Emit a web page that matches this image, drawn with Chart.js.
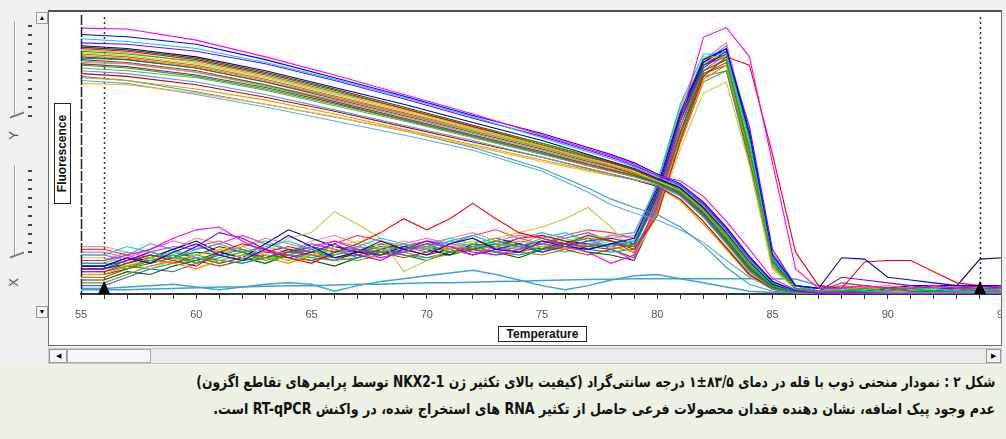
<!DOCTYPE html>
<html>
<head>
<meta charset="utf-8">
<script src="https://cdn.jsdelivr.net/npm/chart.js@4.4.0/dist/chart.umd.min.js"></script>
<style>
html,body{margin:0;padding:0;}
body{width:1006px;height:439px;background:#f0f0f0;position:relative;overflow:hidden;font-family:"Liberation Sans",Arial,sans-serif;}
.abs{position:absolute;box-sizing:border-box;}
#panel{left:48px;top:10px;width:954px;height:336px;background:#fff;}
#plotClip{left:0;top:0;width:1001px;height:345px;overflow:hidden;}
#panelBorder{left:48px;top:10px;width:954px;height:336px;border:1px solid #6a6a6a;border-top:2px solid #505050;}
.groove{width:2px;background:#9a9a9a;border-right:1px solid #fff;}
.tk{width:4px;height:2px;background:#444;left:28px;}
.btn{background:#f4f4f4;border:1px solid #9a9a9a;font-size:7px;line-height:10px;text-align:center;color:#000;}
#flu{left:12px;top:145px;width:101px;height:17px;border:1px solid #222;background:#fff;font-weight:bold;font-size:12px;line-height:15px;text-align:center;transform:rotate(-90deg);color:#111;}
#temp{left:498px;top:326px;width:89px;height:16px;border:1px solid #222;background:#fff;font-weight:bold;font-size:12px;line-height:14px;text-align:center;color:#111;}
#capBand{left:0;top:365px;width:1006px;height:74px;background:#edf1e3;}
.cap{position:absolute;right:11px;white-space:nowrap;direction:rtl;font-family:"DejaVu Sans",sans-serif;font-weight:bold;font-size:15px;color:#111;transform-origin:right center;}
.lbl{font-size:13px;color:#555;transform:rotate(-90deg);}
</style>
</head>
<body>
<div class="abs" id="panel"></div>

<!-- left control strip -->
<div class="abs groove" style="left:14px;top:22px;height:92px;"></div>
<div class="abs groove" style="left:14px;top:166px;height:90px;"></div>
<div id="ticksY"></div>
<div class="abs" style="left:10px;top:114px;width:14px;height:2px;background:#777;transform:skewY(-20deg);"></div>
<div class="abs" style="left:10px;top:254px;width:14px;height:2px;background:#777;transform:skewY(-20deg);"></div>
<div class="abs lbl" style="left:9px;top:128px;">Y</div>
<div class="abs lbl" style="left:9px;top:275px;">X</div>
<div class="abs btn" style="left:36px;top:12px;width:12px;height:12px;">&#9650;</div>
<div class="abs btn" style="left:36px;top:306px;width:12px;height:12px;">&#9660;</div>

<!-- bottom scrollbar -->
<div class="abs" style="left:48px;top:348px;width:954px;height:16px;background:#ececec;border:1px solid #c8c8c8;"></div>
<div class="abs btn" style="left:49px;top:349px;width:18px;height:14px;line-height:12px;">&#9664;</div>
<div class="abs" style="left:67px;top:349px;width:84px;height:14px;background:#f6f6f6;border:1px solid #aaa;"></div>
<div class="abs btn" style="left:986px;top:349px;width:15px;height:14px;line-height:12px;">&#9654;</div>

<div class="abs" id="plotClip"><canvas id="c" width="1020" height="345"></canvas></div>
<div class="abs" id="panelBorder"></div>
<div class="abs" id="flu">Fluorescence</div>
<div class="abs" id="temp">Temperature</div>

<div class="abs" id="capBand"></div>
<div class="cap" id="cap1" style="top:373px;">شکل ۲ : نمودار منحنی ذوب با قله در دمای ۸۳/۵±۱ درجه سانتی‌گراد (کیفیت بالای تکثیر ژن NKX2-1 توسط پرایمرهای تقاطع اگزون)</div>
<div class="cap" id="cap2" style="top:400px;">عدم وجود پیک اضافه، نشان دهنده فقدان محصولات فرعی حاصل از تکثیر RNA های استخراج شده، در واکنش RT-qPCR است.</div>

<script>
// ---------------- DATA ----------------
const xTickLabels = [55, 60, 65, 70, 75, 80, 85, 90, 95];
const markerTemps = [56, 94];

// melt curves (raw fluorescence), sampled at meltTemps
const meltTemps = [55, 57, 60, 63, 66, 69, 72, 75, 77, 78, 79, 80, 81, 82, 83, 84, 85, 86, 87, 88, 90, 92, 95];
const meltCurves = [
  [95.3, 95.0, 91.0, 85.0, 78.5, 71.5, 64.5, 57.0, 52.0, 49.5, 46.5, 42.5, 40.5, 35.0, 26.0, 16.0, 5.5, 1.5, 0.5, 0.3, 0.2, 0.2, 0.2],
  [93.0, 92.2, 89.5, 84.0, 77.5, 71.0, 64.0, 57.5, 52.5, 50.0, 47.0, 43.0, 39.5, 33.0, 24.0, 13.5, 4.5, 1.2, 0.4, 0.3, 0.2, 0.2, 0.2],
  [91.5, 90.5, 88.0, 83.0, 77.0, 70.5, 63.5, 56.0, 51.0, 48.5, 45.5, 42.0, 38.5, 31.5, 22.5, 12.0, 4.0, 1.0, 0.4, 0.3, 0.2, 0.2, 0.2],
  [90.0, 89.5, 87.0, 82.5, 76.5, 70.0, 63.0, 56.5, 51.5, 49.0, 46.0, 42.5, 39.0, 32.5, 23.5, 13.0, 4.5, 1.2, 0.4, 0.3, 0.2, 0.2, 0.2],
  [89.0, 88.0, 85.0, 80.0, 74.0, 68.0, 61.5, 55.0, 50.0, 47.5, 45.0, 41.5, 38.0, 31.0, 22.0, 11.5, 3.5, 1.0, 0.4, 0.3, 0.2, 0.2, 0.2],
  [88.0, 87.0, 84.0, 79.0, 73.0, 66.5, 60.0, 53.5, 49.0, 47.0, 44.5, 41.0, 38.5, 32.0, 23.0, 12.5, 4.0, 1.2, 0.4, 0.3, 0.2, 0.2, 0.2],
  [87.0, 86.0, 83.5, 78.5, 72.5, 66.5, 60.0, 54.0, 49.5, 47.0, 44.5, 41.0, 37.5, 30.5, 21.0, 10.5, 3.0, 0.8, 0.3, 0.3, 0.2, 0.2, 0.2],
  [86.5, 85.5, 82.5, 77.5, 71.5, 65.5, 59.0, 53.0, 48.5, 46.5, 44.0, 40.5, 37.5, 30.5, 21.5, 11.0, 3.5, 1.0, 0.3, 0.3, 0.2, 0.2, 0.2],
  [85.5, 84.5, 81.5, 76.5, 70.5, 64.5, 58.5, 52.5, 48.0, 46.0, 43.5, 40.5, 37.0, 30.0, 20.5, 10.5, 3.0, 0.8, 0.3, 0.2, 0.2, 0.2, 0.2],
  [85.0, 84.0, 81.0, 76.0, 70.0, 64.0, 58.0, 52.0, 47.5, 45.5, 43.0, 40.0, 36.5, 29.0, 19.5, 9.5, 2.5, 0.7, 0.3, 0.2, 0.2, 0.2, 0.2],
  [84.0, 83.0, 80.0, 75.0, 69.0, 63.0, 57.0, 51.0, 46.5, 44.5, 42.5, 40.0, 36.0, 28.5, 19.0, 9.0, 2.5, 0.7, 0.3, 0.2, 0.2, 0.2, 0.2],
  [83.0, 82.5, 79.5, 75.0, 69.5, 63.5, 57.5, 51.5, 47.0, 45.0, 43.0, 40.0, 37.0, 30.0, 21.0, 10.5, 3.0, 0.8, 0.3, 0.2, 0.2, 0.2, 0.2],
  [82.0, 81.0, 78.0, 73.5, 68.0, 62.5, 56.5, 50.5, 46.5, 44.5, 42.5, 39.5, 35.5, 28.0, 18.5, 8.5, 2.2, 0.6, 0.3, 0.2, 0.2, 0.2, 0.2],
  [81.0, 80.0, 77.5, 73.0, 67.5, 62.0, 56.0, 50.0, 46.0, 44.0, 42.0, 39.5, 36.0, 28.5, 19.0, 9.0, 2.5, 0.7, 0.3, 0.2, 0.2, 0.2, 0.2],
  [80.0, 79.0, 76.0, 71.5, 66.0, 60.5, 55.0, 49.0, 45.0, 43.0, 41.0, 39.0, 35.0, 27.5, 18.0, 8.0, 2.0, 0.5, 0.3, 0.2, 0.2, 0.2, 0.2],
  [79.0, 78.0, 75.0, 70.5, 65.5, 60.0, 54.5, 49.0, 45.0, 43.0, 41.0, 38.5, 34.0, 26.0, 16.5, 7.0, 1.8, 0.5, 0.3, 0.2, 0.2, 0.2, 0.2],
  [77.5, 76.5, 73.5, 69.5, 64.5, 59.0, 53.5, 48.0, 44.5, 42.5, 41.0, 38.5, 33.5, 25.0, 16.0, 6.5, 1.5, 0.4, 0.3, 0.2, 0.2, 0.2, 0.2],
  [75.5, 75.0, 72.0, 68.0, 63.5, 58.5, 53.0, 47.5, 44.0, 42.5, 41.0, 39.0, 34.0, 26.0, 17.0, 7.5, 2.0, 0.5, 0.3, 0.2, 0.2, 0.2, 0.2],
  [78.0, 76.5, 72.5, 68.0, 63.5, 58.5, 52.5, 45.0, 38.0, 34.0, 31.0, 28.5, 24.0, 17.5, 9.5, 3.5, 1.0, 0.4, 0.3, 0.2, 0.2, 0.2, 0.2],
  [76.5, 75.5, 71.5, 67.0, 62.0, 57.0, 51.5, 44.0, 36.5, 32.0, 29.0, 26.5, 23.0, 18.5, 12.0, 6.0, 2.0, 0.6, 0.3, 0.2, 0.2, 0.2, 0.2],
  [88.5, 87.5, 84.5, 79.5, 73.5, 67.0, 60.5, 54.0, 49.5, 47.0, 44.5, 41.0, 38.0, 31.0, 21.5, 11.0, 3.5, 1.0, 0.4, 0.3, 0.2, 0.2, 0.2],
  [86.0, 85.0, 82.0, 77.0, 71.0, 65.0, 59.0, 53.0, 48.5, 46.0, 43.5, 40.5, 37.0, 30.0, 20.5, 10.0, 3.0, 0.8, 0.3, 0.2, 0.2, 0.2, 0.2],
  [84.5, 84.0, 81.0, 76.0, 70.5, 64.5, 58.5, 52.5, 48.0, 45.5, 43.5, 40.5, 37.0, 29.5, 20.0, 10.0, 2.8, 0.8, 0.3, 0.2, 0.2, 0.2, 0.2],
  [83.5, 82.5, 79.5, 74.5, 69.0, 63.0, 57.0, 51.0, 46.5, 44.5, 42.5, 39.5, 36.5, 29.5, 20.0, 9.5, 2.5, 0.7, 0.3, 0.2, 0.2, 0.2, 0.2],
  [82.5, 81.5, 78.5, 74.0, 68.5, 62.5, 56.5, 50.5, 46.0, 44.0, 42.0, 39.5, 35.5, 28.0, 18.5, 8.5, 2.2, 0.6, 0.3, 0.2, 0.2, 0.2, 0.2],
  [87.5, 86.5, 83.0, 78.0, 72.0, 66.0, 59.5, 53.0, 48.5, 46.5, 44.0, 41.0, 38.0, 31.5, 22.5, 12.0, 4.0, 1.0, 0.4, 0.3, 0.2, 0.2, 0.2]
];
const meltColors = ['#ff00ff','#0000ff','#00c8ff','#8000ff','#000080','#ff0000','#00c000','#80ff00','#ff8000','#008040',
                    '#a04000','#ff60c0','#00a0a0','#a0a000','#40a0ff','#c00000','#e0a000','#ffb020','#3399dd','#55aaee',
                    '#006000','#ff4040','#4060ff','#20e060','#804000','#ff9090'];

// derivative curves (-dF/dT), sampled at derivTemps
const derivTemps = [55,56,57,58,59,60,61,62,63,64,65,66,67,68,69,70,71,72,73,74,75,76,77,78,79,80,81,82,83,84,85,86,87,88,89,90,91,92,93,94,95];
const derivCurves = [
  [12,12,14,16,20,23,24,19,15,14,17,19,16,13,15,18,17,15,14,16,18,17,15,11, 14,32,62,92,95.5,85,47,9,2, 2,3,2,2,3,2,2,2],
  [10,10,13,11,15,18,14,12,16,21,17,13,15,19,16,14,18,20,16,15,19,17,16,18, 20,38,65,84,88,58,14,3,2, 13,12.5,6,5,4,3,3,3],
  [8,8,11,14,12,10,15,18,16,13,11,15,18,22,27,23,27,32.5,27,22,20,18,21,19, 16,28,55,78,85,82,50,15,3, 2,11.5,12,12,8,4,3,3],
  [11,11,9,12,14,11,13,15,12,14,16,13,15,17,16,18,15,17,19,17,16,18,20,19, 17,34,60,80,84,52,11,2,1, 1,2,1,2,1,1,2,1],
  [14,14,17,15,13,16,18,15,17,19,16,14,17,20,18,16,19,21,18,17,20,22,19,17, 19,40,68,86,86,55,13,3,1, 2,1,1,2,2,1,1,2],
  [9,9,12,15,13,17,22,20,16,13,15,18,14,12,16,19,17,14,16,18,15,17,19,20, 18,35,62,81,87,60,16,3,1, 6,5,4,3,2,2,3,2],
  [7,7,10,12,11,9,12,14,13,11,14,16,14,13,15,17,16,14,17,19,18,16,18,17, 15,30,56,77,82,50,10,2,1, 2,2,3,2,2,3,2,2],
  [13,13,11,9,12,14,16,13,15,20,22,29.5,25,20,8,12,16,18,20,22,24,27,31,24, 14,28,52,72,76,46,9,2,1, 2,2,1,2,2,1,2,1],
  [10,10,12,14,13,15,14,12,13,15,17,15,16,14,16,17,15,16,18,17,19,18,17,18, 17,36,63,82,86,56,12,2,1, 1,1,2,1,1,2,1,1],
  [12,12,10,13,15,14,16,17,14,12,14,17,19,17,18,16,17,19,18,16,17,19,21,20, 19,38,66,85,85,54,14,3,1, 2,2,1,1,2,2,1,1],
  [6,6,9,11,13,12,10,12,14,13,12,14,16,15,13,15,17,16,14,15,17,16,14,16, 18,33,58,79,83,49,11,2,1, 4,3,2,2,3,2,2,2],
  [15,15,13,16,19,17,15,17,20,18,16,19,17,15,18,20,18,16,19,21,20,17,19,21, 20,40,67,84,90,58,15,3,1, 3,2,2,2,3,2,2,3],
  [9,9,11,13,16,19,15,13,18,23,20,17,15,14,17,16,14,18,20,18,16,19,18,17, 19,37,64,83,88,57,13,3,2, 2,2,2,3,3,3,12.5,13],
  [11,11,14,18,16,13,12,14,16,14,12,15,17,16,15,17,19,17,18,20,22,20,17,21, 22,39,66,83,89,52,12,3,2, 3,2,2,2,2,2,2,2],
  [8,8,10,9,11,13,12,11,13,14,13,12,13,15,14,13,15,16,15,14,16,17,16,15, 16,31,57,78,80,48,10,2,1, 1,2,2,1,1,1,2,1],
  [4,4,7,10,12,14,12,11,13,15,14,13,12,14,15,13,14,16,17,15,14,16,18,17, 15,29,54,76,80,47,9,2,1, 1,1,1,1,2,1,1,1],
  [10,10,13,12,11,14,17,15,13,16,14,12,15,18,16,14,16,18,17,20,21,19,16,18, 17,35,63,82,87,53,13,3,1, 2,2,2,2,2,2,2,2],
  [14,14,12,15,17,16,18,21,18,16,15,17,16,14,17,19,18,17,15,17,19,18,20,16, 12,34,60,80,84,54,12,2,1, 2,3,2,2,2,3,2,2],
  [5,5,8,7,10,12,15,13,11,14,12,10,13,16,14,12,15,17,15,13,16,18,15,14, 12,30,58,80,84,51,12,2,1, 1,1,2,1,1,1,1,1],
  [16,16,14,11,13,17,19,16,14,12,15,18,21,19,17,15,18,21,23,20,18,21,23,22, 20,36,62,80,86,56,14,3,1, 2,2,1,1,2,2,1,1],
  [3,3,6,9,8,11,14,16,13,15,18,16,13,15,17,19,16,14,17,16,18,20,22,19, 15,32,60,82,85,50,11,2,1, 1,2,1,1,1,2,1,1],
  [12,12,15,13,11,12,14,17,19,16,13,15,17,14,16,18,20,18,16,18,17,15,17,19, 18,36,64,84,87,55,13,3,1, 2,1,2,2,1,2,2,1],
  [7,7,9,13,15,13,11,13,15,17,15,13,14,16,18,16,14,16,19,17,15,18,17,16, 13,31,57,79,82,49,10,2,1, 1,1,1,2,1,1,1,2],
  [17,17,15,13,16,20,18,15,17,15,19,21,18,16,19,17,20,22,19,18,21,19,17,20, 21,38,63,83,86,57,14,3,1, 2,2,2,1,2,2,2,2]
];
const derivColors = ['#ff00ff','#0000ff','#ff0000','#00c000','#00d0d0','#8000ff','#ff8000','#c8c840','#008040','#80ff00',
                     '#a05000','#ff60b0','#0000a0','#40a0ff','#00a0a0','#909000','#c00000','#c040ff',
                     '#006000','#ff4040','#4060ff','#20e060','#804000','#ff9090'];

// no-template controls (flat, low), sampled at derivTemps
const ntcCurves = [
  [1.5,1.5,1.5,1.8,2.0,2.2,2.5,2.5,2.8,3.0,3.0,3.2,3.5,3.5,3.8,4.0,4.0,4.2,4.5,4.6,4.8,5.0,5.2,5.3, 5.5,5.5,5.5,5.5,5.5,5.5,5.5,5.4,3.0, 2.0,2.0,2.0,2.0,2.0,2.0,2.0,2.0],
  [2.0,2.0,2.5,3.0,3.5,2.5,1.5,2.5,3.5,4.0,3.5,1.0,3.0,4.5,5.5,6.5,7.5,8.5,7.0,5.0,3.0,1.5,3.0,5.0, 6.5,7.0,5.5,4.0,2.5,1.0,0.5,0.5,0.5, 0.5,0.5,0.5,0.5,0.5,0.5,0.5,0.5]
];
const ntcColor = '#3fa0dd';

// ---------------- CHROME (slider ticks) ----------------
(function(){
  const host = document.getElementById('ticksY');
  let h = '';
  for (let y = 25; y <= 115; y += 9) h += '<div class="abs tk" style="top:'+y+'px"></div>';
  for (let y = 170; y <= 255; y += 9) h += '<div class="abs tk" style="top:'+y+'px"></div>';
  host.innerHTML = h;
})();

// ---------------- CHART ----------------
const datasets = [];
meltCurves.forEach((vals, i) => datasets.push({
  data: meltTemps.map((t, j) => ({x: t, y: vals[j]})),
  borderColor: meltColors[i], borderWidth: 1.1, pointRadius: 0, tension: 0, fill: false
}));
derivCurves.forEach((vals, i) => datasets.push({
  data: derivTemps.map((t, j) => ({x: t, y: vals[j]})),
  borderColor: derivColors[i], borderWidth: 1.1, pointRadius: 0, tension: 0, fill: false
}));
ntcCurves.forEach(vals => datasets.push({
  data: derivTemps.map((t, j) => ({x: t, y: vals[j]})),
  borderColor: ntcColor, borderWidth: 1.5, pointRadius: 0, tension: 0, fill: false
}));

const markerPlugin = {
  id: 'markers',
  beforeDatasetsDraw(chart) {
    const {ctx, chartArea: {top, bottom}, scales: {x}} = chart;
    ctx.save();
    ctx.strokeStyle = '#333'; ctx.lineWidth = 1.5; ctx.setLineDash([2, 3]);
    markerTemps.forEach(t => {
      const px = Math.round(x.getPixelForValue(t)) + 0.5;
      ctx.beginPath(); ctx.moveTo(px, top + 2); ctx.lineTo(px, bottom); ctx.stroke();
    });
    ctx.restore();
  },
  afterDatasetsDraw(chart) {
    const {ctx, chartArea: {top, bottom}, scales: {x}} = chart;
    ctx.save();
    ctx.strokeStyle = '#222'; ctx.lineWidth = 1.5; ctx.setLineDash([10, 2]);
    const lx = Math.round(x.left) + 0.5;
    ctx.beginPath(); ctx.moveTo(lx, top); ctx.lineTo(lx, bottom); ctx.stroke();
    ctx.setLineDash([]);
    ctx.fillStyle = '#000';
    markerTemps.forEach(t => {
      const px = x.getPixelForValue(t);
      ctx.beginPath(); ctx.moveTo(px - 6, bottom); ctx.lineTo(px + 6, bottom); ctx.lineTo(px, bottom - 13); ctx.closePath(); ctx.fill();
    });
    ctx.restore();
  }
};

new Chart(document.getElementById('c'), {
  type: 'line',
  data: {datasets},
  options: {
    responsive: false, animation: false, devicePixelRatio: 1,
    layout: {padding: {left: 81, right: 17, top: 15, bottom: 0}},
    plugins: {legend: {display: false}, tooltip: {enabled: false}},
    scales: {
      x: {
        type: 'linear', min: 55, max: 95, position: 'bottom',
        afterFit: s => { s.height = 51; },
        ticks: {
          stepSize: 1, autoSkip: false, maxRotation: 0, maxTicksLimit: 100, padding: 9,
          color: '#555', font: {family: 'Liberation Sans', size: 11},
          callback: v => xTickLabels.includes(v) ? String(v) : ''
        },
        grid: {drawOnChartArea: false, drawTicks: true, tickLength: 5, color: '#333', lineWidth: 1},
        border: {display: true, color: '#333', width: 2}
      },
      y: {min: 0, max: 100, display: false}
    }
  },
  plugins: [markerPlugin]
});

// ---------------- caption fit ----------------
function fitCap(id, leftTarget) {
  const el = document.getElementById(id);
  el.style.transform = 'none';
  const w = el.getBoundingClientRect().width;
  const target = 995 - leftTarget;
  el.style.transform = 'scaleX(' + (target / w) + ')';
}
fitCap('cap1', 196);
fitCap('cap2', 213);
</script>
</body>
</html>
